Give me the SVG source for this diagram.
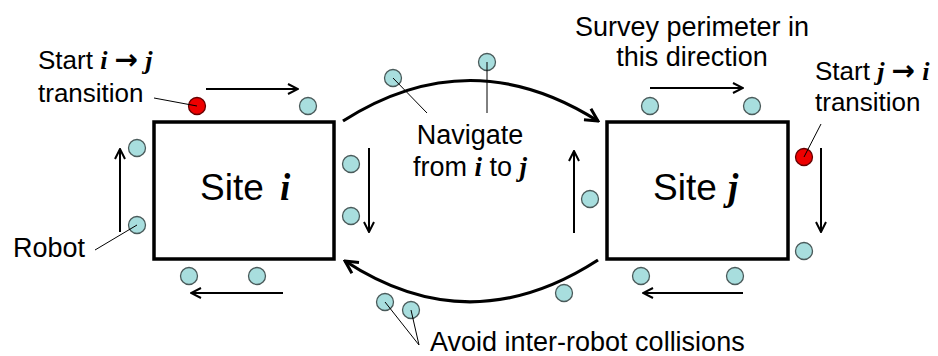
<svg xmlns="http://www.w3.org/2000/svg" width="938" height="356" viewBox="0 0 938 356">
  <style>
    .site { fill: #fff; stroke: #000; stroke-width: 3.5; }
    .robot { fill: #a8dede; stroke: #4a5a5a; stroke-width: 1.3; }
    .start { fill: #ee0000; stroke: #600; stroke-width: 1.3; }
    .lbl { font-family: "Liberation Sans", Arial, sans-serif; font-size: 27px; fill: #000; }
    .sm { font-size: 26px; }
    .big { font-family: "Liberation Sans", Arial, sans-serif; font-size: 37px; fill: #000; }
    .var { font-family: "Liberation Serif", "Times New Roman", serif; font-style: italic; font-weight: bold; }
    .arr { font-family: "DejaVu Sans", sans-serif; font-weight: bold; font-size: 28px; }
    .move { fill: none; stroke: #000; stroke-width: 2; marker-end: url(#headThin); }
    .path { fill: none; stroke: #000; stroke-width: 3.2; marker-end: url(#headThick); }
    .lead { fill: none; stroke: #000; stroke-width: 1; }
  </style>
  <defs>
    <marker id="headThin" markerUnits="userSpaceOnUse" viewBox="0 0 12 12" refX="11" refY="6" markerWidth="12" markerHeight="12" orient="auto">
      <path d="M1,1 L11,6 L1,11" fill="none" stroke="#000" stroke-width="2"/>
    </marker>
    <marker id="headThick" markerUnits="userSpaceOnUse" viewBox="0 0 16 16" refX="14" refY="8" markerWidth="16" markerHeight="16" orient="auto">
      <path d="M1.5,1.5 L14,8 L1.5,14.5" fill="none" stroke="#000" stroke-width="3"/>
    </marker>
  </defs>

  <!-- survey sites -->
  <g id="site-i">
    <rect class="site" x="154" y="122" width="180" height="137"/>
    <text class="big" x="200" y="200">Site <tspan class="var" x="280">i</tspan></text>
  </g>
  <g id="site-j">
    <rect class="site" x="607" y="122" width="181" height="137"/>
    <text class="big" x="653" y="200">Site <tspan class="var" x="728">j</tspan></text>
  </g>

  <!-- motion arrows and transit paths -->
  <g id="connectors">
    <line class="move" x1="206" y1="89" x2="298" y2="89"/>
    <line class="move" x1="369" y1="148" x2="369" y2="232"/>
    <line class="move" x1="283" y1="293" x2="191" y2="293"/>
    <line class="move" x1="120" y1="232" x2="120" y2="149"/>
    <line class="move" x1="650" y1="88" x2="743" y2="88"/>
    <line class="move" x1="821" y1="148" x2="821" y2="232"/>
    <line class="move" x1="743" y1="293" x2="643" y2="293"/>
    <line class="move" x1="574" y1="233" x2="574" y2="151"/>
    <path class="path" d="M343,121 Q470,40 598,121"/>
    <path class="path" d="M598,260 Q470,343 345,261"/>
  </g>

  <!-- robots -->
  <g id="robots">
    <circle class="start" cx="197" cy="106" r="8.5"/>
    <circle class="robot" cx="308" cy="106" r="8.5"/>
    <circle class="robot" cx="137" cy="148" r="8.5"/>
    <circle class="robot" cx="137" cy="225" r="8.5"/>
    <circle class="robot" cx="189" cy="276" r="8.5"/>
    <circle class="robot" cx="257" cy="276" r="8.5"/>
    <circle class="robot" cx="351" cy="164" r="8.5"/>
    <circle class="robot" cx="351" cy="216" r="8.5"/>
    <circle class="robot" cx="393" cy="78" r="8.5"/>
    <circle class="robot" cx="487" cy="62" r="8.5"/>
    <circle class="robot" cx="590" cy="199" r="8.5"/>
    <circle class="robot" cx="650" cy="106" r="8.5"/>
    <circle class="robot" cx="752" cy="106" r="8.5"/>
    <circle class="start" cx="804" cy="157" r="8.5"/>
    <circle class="robot" cx="804" cy="251" r="8.5"/>
    <circle class="robot" cx="641" cy="276" r="8.5"/>
    <circle class="robot" cx="735" cy="276" r="8.5"/>
    <circle class="robot" cx="564" cy="293" r="8.5"/>
    <circle class="robot" cx="385" cy="302" r="8.5"/>
    <circle class="robot" cx="411" cy="310" r="8.5"/>
  </g>

  <!-- annotations -->
  <g id="label-start-ij">
    <text class="lbl sm" x="38" y="69">Start <tspan class="var">i</tspan> <tspan class="arr">→</tspan> <tspan class="var">j</tspan></text>
    <text class="lbl sm" x="38" y="102">transition</text>
    <line class="lead" x1="154" y1="98" x2="197" y2="106"/>
  </g>
  <g id="label-robot">
    <text class="lbl" x="13" y="257">Robot</text>
    <line class="lead" x1="95" y1="250" x2="137" y2="225"/>
  </g>
  <g id="label-navigate">
    <text class="lbl" x="470" y="144" text-anchor="middle">Navigate</text>
    <text class="lbl" x="470" y="176" text-anchor="middle">from <tspan class="var">i</tspan> to <tspan class="var">j</tspan></text>
    <line class="lead" x1="393" y1="78" x2="427" y2="113"/>
    <line class="lead" x1="487" y1="62" x2="487" y2="113"/>
  </g>
  <g id="label-survey">
    <text class="lbl" x="692" y="36" text-anchor="middle">Survey perimeter in</text>
    <text class="lbl" x="692" y="66" text-anchor="middle">this direction</text>
  </g>
  <g id="label-start-ji">
    <text class="lbl sm" x="815" y="80">Start <tspan class="var">j</tspan> <tspan class="arr">→</tspan> <tspan class="var">i</tspan></text>
    <text class="lbl sm" x="815" y="111">transition</text>
    <line class="lead" x1="821" y1="124" x2="804" y2="157"/>
  </g>
  <g id="label-avoid">
    <text class="lbl" x="430" y="351" font-size="28">Avoid inter-robot collisions</text>
    <line class="lead" x1="419" y1="345" x2="385" y2="302"/>
    <line class="lead" x1="419" y1="345" x2="411" y2="310"/>
  </g>
</svg>
